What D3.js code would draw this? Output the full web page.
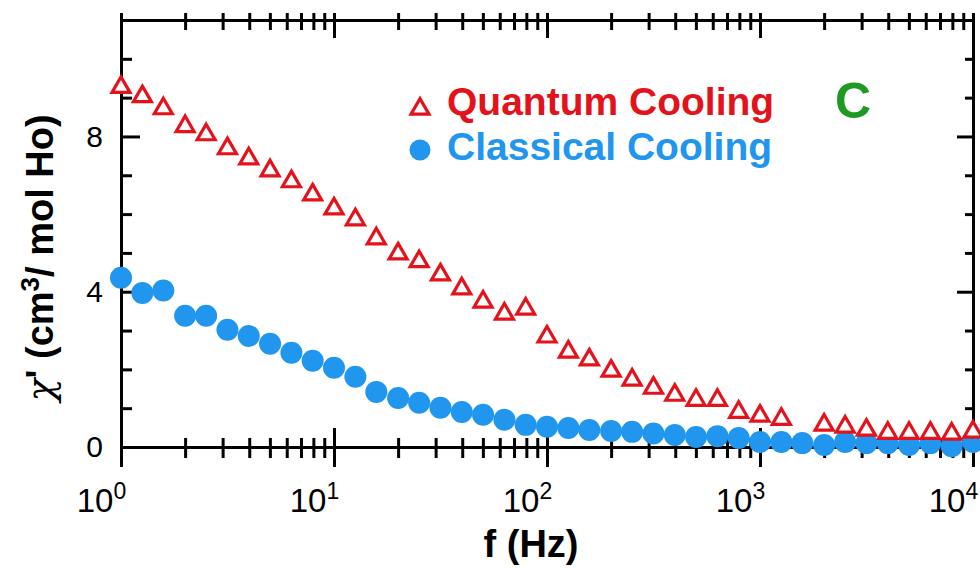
<!DOCTYPE html>
<html>
<head>
<meta charset="utf-8">
<script src="https://cdn.jsdelivr.net/npm/d3@7"></script>
<style>
    body { margin: 0; background: #fff; }
    svg { display: block; font-family: "Liberation Sans", Arial, Helvetica, sans-serif; }
</style>
</head>
<body>
<svg width="980" height="568"></svg>
<script>
// frequencies (Hz), ten points per decade
const freqHz = [1, 1.26, 1.58, 2.0, 2.51, 3.16, 3.98, 5.01, 6.31, 7.94,
    10, 12.6, 15.8, 20, 25.1, 31.6, 39.8, 50.1, 63.1, 79.4,
    100, 126, 158, 200, 251, 316, 398, 501, 631, 794,
    1000, 1260, 1580, 2000, 2510, 3160, 3980, 5010, 6310, 7940, 10000];

// chi' (cm3 / mol Ho), null = no point
const quantumChi = [9.32, 9.08, 8.77, 8.31, 8.10, 7.74, 7.48, 7.17, 6.89, 6.55,
    6.19, 5.91, 5.42, 5.03, 4.83, 4.49, 4.13, 3.79, 3.48, 3.61,
    2.89, 2.50, 2.30, 2.01, 1.78, 1.57, 1.39, 1.26, 1.26, 0.95,
    0.85, 0.77, null, 0.62, 0.57, 0.49, 0.41, 0.41, 0.41, 0.39, 0.44];

const classicalChi = [4.36, 3.97, 4.03, 3.38, 3.38, 3.02, 2.86, 2.66, 2.43, 2.22,
    2.04, 1.81, 1.42, 1.26, 1.14, 1.01, 0.90, 0.83, 0.70, 0.57,
    0.52, 0.49, 0.44, 0.41, 0.39, 0.35, 0.31, 0.26, 0.28, 0.23,
    0.13, 0.13, 0.10, 0.05, 0.13, 0.10, 0.10, 0.05, 0.10, 0.02, 0.13];

const decadeTicks = [1, 10, 100, 1000, 10000];
const decadeExp = ['0', '1', '2', '3', '4'];
const chiMajor = [0, 4, 8];
const chiMinor = [1, 2, 3, 5, 6, 7, 9, 10];
const seriesNames = ['Quantum Cooling', 'Classical Cooling'];

(() => {

    const red = '#e3121b',
          blue = '#2196ee',
          green = '#1c9a22';

    const svg = d3.select('svg');
    const left = 121, right = 973, top = 20, bottom = 447;

    const x = d3.scaleLog().domain([1, 1e4]).range([left, right]);
    const y = d3.scaleLinear().domain([0, 11]).range([bottom, top]);

    const minorX = x.ticks().filter(v => !decadeTicks.includes(v));

    // ticks that cross the axis line: d3 draws 0..y2, stretch the other end
    const crossTicks = (g, attr, len) => g.selectAll('.tick line').attr(attr, len);

    const styleAxis = g => {
        g.select('.domain').attr('stroke-width', 3).attr('stroke-linecap', 'square');
        g.selectAll('.tick line').attr('stroke-width', 3);
    };

    // bottom
    svg.append('g').attr('transform', `translate(0,${bottom})`)
        .call(d3.axisBottom(x).tickValues(minorX).tickSizeInner(11).tickSizeOuter(0).tickFormat(''))
        .call(g => crossTicks(g, 'y1', -9)).call(styleAxis);
    const bottomMajor = svg.append('g').attr('transform', `translate(0,${bottom})`)
        .call(d3.axisBottom(x).tickValues(decadeTicks).tickSizeInner(20).tickSizeOuter(0).tickFormat(''))
        .call(g => crossTicks(g, 'y1', -19)).call(styleAxis);

    bottomMajor.selectAll('.tick').each(function(d, i) {
        const t = d3.select(this).append('text')
            .attr('x', -20).attr('y', 65)
            .attr('text-anchor', 'middle')
            .attr('fill', '#000')
            .attr('font-size', 33);
        t.append('tspan').text('10');
        t.append('tspan').attr('dy', -13).attr('font-size', 23).text(decadeExp[i]);
    });

    // top
    svg.append('g').attr('transform', `translate(0,${top})`)
        .call(d3.axisTop(x).tickValues(minorX).tickSizeInner(7).tickSizeOuter(0).tickFormat(''))
        .call(g => crossTicks(g, 'y1', 10)).call(styleAxis);
    svg.append('g').attr('transform', `translate(0,${top})`)
        .call(d3.axisTop(x).tickValues(decadeTicks).tickSizeInner(7).tickSizeOuter(0).tickFormat(''))
        .call(g => crossTicks(g, 'y1', 18)).call(styleAxis);

    // left
    svg.append('g').attr('transform', `translate(${left},0)`)
        .call(d3.axisLeft(y).tickValues(chiMinor).tickSizeInner(-11).tickSizeOuter(0).tickFormat(''))
        .call(styleAxis);
    svg.append('g').attr('transform', `translate(${left},0)`)
        .call(d3.axisLeft(y).tickValues(chiMajor).tickSizeInner(-19).tickSizeOuter(0).tickPadding(18))
        .call(styleAxis)
        .call(g => g.selectAll('text').attr('font-size', 30).attr('fill', '#000'));

    // right
    svg.append('g').attr('transform', `translate(${right},0)`)
        .call(d3.axisRight(y).tickValues(chiMinor).tickSizeInner(-8).tickSizeOuter(0).tickFormat(''))
        .call(styleAxis);
    svg.append('g').attr('transform', `translate(${right},0)`)
        .call(d3.axisRight(y).tickValues(chiMajor).tickSizeInner(-16).tickSizeOuter(0).tickFormat(''))
        .call(styleAxis);

    // data
    const classical = freqHz.map((f, i) => ({f, v: classicalChi[i]}));
    const quantum = freqHz.map((f, i) => ({f, v: quantumChi[i]})).filter(d => d.v !== null);

    svg.append('g')
        .selectAll('circle')
        .data(classical)
        .enter().append('circle')
        .attr('cx', d => x(d.f))
        .attr('cy', d => y(d.v))
        .attr('r', 11)
        .attr('fill', blue);

    const tri = d3.symbol().type(d3.symbolTriangle).size(140);

    svg.append('g')
        .selectAll('path')
        .data(quantum)
        .enter().append('path')
        .attr('d', tri)
        .attr('transform', d => `translate(${x(d.f)},${y(d.v) + 2})`)
        .attr('fill', '#fff')
        .attr('stroke', red)
        .attr('stroke-width', 3.2);

    // legend
    const legend = svg.append('g').attr('font-weight', 'bold').attr('font-size', 39);
    legend.append('path').attr('d', tri)
        .attr('transform', 'translate(420,109)')
        .attr('fill', '#fff').attr('stroke', red).attr('stroke-width', 3.2);
    legend.append('text').attr('x', 447).attr('y', 115).attr('fill', red).text(seriesNames[0]);
    legend.append('circle').attr('cx', 420).attr('cy', 150).attr('r', 10.5).attr('fill', blue);
    legend.append('text').attr('x', 447).attr('y', 160).attr('fill', blue).text(seriesNames[1]);

    svg.append('text')
        .attr('x', 835).attr('y', 118)
        .attr('font-size', 50).attr('font-weight', 'bold')
        .attr('fill', green)
        .text('C');

    // axis titles
    svg.append('text')
        .attr('x', 531).attr('y', 557)
        .attr('text-anchor', 'middle')
        .attr('font-size', 38).attr('font-weight', 'bold')
        .text('f (Hz)');

    const yTitle = svg.append('text')
        .attr('transform', 'translate(53,258) rotate(-90)')
        .attr('text-anchor', 'middle')
        .attr('font-size', 38).attr('font-weight', 'bold');
    yTitle.append('tspan').attr('font-family', '"DejaVu Serif", serif')
        .attr('font-style', 'italic').attr('font-weight', 'normal').text('χ');
    yTitle.append('tspan').text("' (cm");
    yTitle.append('tspan').attr('dy', -14).attr('font-size', 26).text('3');
    yTitle.append('tspan').attr('dy', 14).text('/ mol Ho)');

})();
</script>
</body>
</html>
